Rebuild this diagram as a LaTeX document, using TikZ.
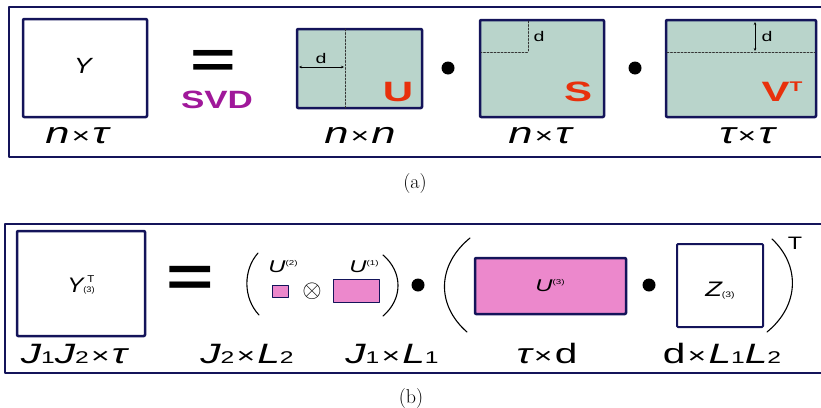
\documentclass[tikz,border=0pt]{standalone}
\usepackage{fontspec}
\newfontfamily\arial{Liberation Sans}
\usetikzlibrary{arrows.meta}
\definecolor{navy}{HTML}{14145A}
\definecolor{sage}{HTML}{B9D4CB}
\definecolor{rose}{HTML}{EC88CC}
\definecolor{svdpurple}{HTML}{A0189A}
\definecolor{redletter}{HTML}{E8300C}
\newcommand{\fs}[1]{\fontsize{#1}{#1}\selectfont}
\newcommand{\ai}[1]{{\itshape #1}}
\newcommand{\lo}[1]{{\fs{17}#1}}
\newcommand{\tm}{\hspace{1.5pt}{\fs{22}×}\hspace{1.5pt}}
\tikzset{
	frame/.style={draw=navy, line width=1.5pt},
	mat/.style={draw=navy, line width=2.5pt, rounded corners=1pt, inner sep=0pt},
	dimlabel/.style={font=\arial\fs{30}, anchor=base, xscale=1.45, inner sep=0pt},
	factor/.style={font=\arial\bfseries\fs{28}, text=redletter, xscale=1.5, inner sep=0pt},
	dl/.style={font=\arial\fs{14}, xscale=1.4, inner sep=0pt},
	cut/.style={draw=black!80, line width=0.7pt, dash pattern=on 2pt off 1.5pt},
	dimarrow/.style={line width=0.7pt, {Stealth[length=3pt,width=2.5pt]}-{Stealth[length=3pt,width=2.5pt]}},
	prod/.style={circle, fill=black, inner sep=0pt, minimum size=13pt},
	paren/.style={line width=1.1pt}
}
\begin{document}
\begin{tikzpicture}[x=1pt, y=-1pt, line join=round, line cap=round]
	\useasboundingbox (0,0) rectangle (821,407);
	% (a)
	\draw[frame] (830,7) -- (9,7) -- (9,157) -- (830,157);
	\node[mat, minimum width=124pt, minimum height=98pt] (Y) at (85,68) {};
	\node[font=\arial\itshape\fs{22}, xscale=1.2] (Ylab) at (83,66) {Y};
	\node[font=\arial\bfseries\fs{52}, xscale=1.5] (eqa) at (213,64) {=};
	\node[font=\arial\bfseries\fs{25}, text=svdpurple, xscale=1.4] (svd) at (217,100) {SVD};
	\node[mat, fill=sage, minimum width=125pt, minimum height=79pt] (U) at (359.5,68.5) {};
	\node[mat, fill=sage, minimum width=124pt, minimum height=97pt] (S) at (542,68.5) {};
	\node[mat, fill=sage, minimum width=150pt, minimum height=97pt] (V) at (741,68.5) {};
	\node[prod] (dot1) at (448,68) {};
	\node[prod] (dot2) at (635,68) {};
	% cuts at rank d
	\coordinate (Ucut) at (345,29);
	\coordinate (Ucutb) at (345,108);
	\draw[cut] (Ucut) -- (Ucutb);
	\coordinate (Ua) at (299,67);
	\coordinate (Ub) at (344,67);
	\draw[dimarrow] (Ua) -- (Ub);
	\node[dl] (dU) at (321,58) {d};
	\coordinate (Sa) at (528,21);
	\coordinate (Sb) at (528,52);
	\coordinate (Sc) at (481,52);
	\draw[cut] (Sa) -- (Sb) -- (Sc);
	\node[dl] (dS) at (539,36) {d};
	\coordinate (Va) at (667,52);
	\coordinate (Vb) at (815,52);
	\draw[cut] (Va) -- (Vb);
	\coordinate (Vt) at (755,22);
	\coordinate (Vd) at (755,51);
	\draw[dimarrow] (Vt) -- (Vd);
	\node[dl] (dV) at (767,36) {d};
	\node[factor] (Ulab) at (398,92) {U};
	\node[factor] (Slab) at (578,92) {S};
	\node[factor] (Vlab) at (782,92) {V\raisebox{10pt}{\fs{14}T}};
	\node[dimlabel] (Ydim) at (77,143) {\ai{n}\tm\ai{τ}};
	\node[dimlabel] (Udim) at (360,143) {\ai{n}\tm\ai{n}};
	\node[dimlabel] (Sdim) at (540,143) {\ai{n}\tm\ai{τ}};
	\node[dimlabel] (Vdim) at (747,143) {\ai{τ}\tm\ai{τ}};
	\node[font=\fs{20}, anchor=base] (capa) at (415,188) {(a)};
	% (b)
	\draw[frame] (830,224) -- (5,224) -- (5,373) -- (830,373);
	\node[mat, minimum width=128pt, minimum height=105pt] (Y3) at (81,283.5) {};
	\node[font=\arial\fs{21}, anchor=base, xscale=1.15] (Y3lab) at (81,292)
		{\ai{Y}{\fs{8}(3)}};
	\node[font=\arial\fs{10}, xscale=1.15] (Y3sup) at (91,279) {T};
	\node[font=\arial\bfseries\fs{58}, xscale=1.4] (eqb) at (190,281) {=};
	\coordinate (pl1) at (258,253);
	\coordinate (pl2) at (259,315);
	\draw[paren] (pl1) .. controls (243,270) and (243,298) .. (pl2);
	\node[mat, line width=0.9pt, rounded corners=0pt, fill=rose, minimum width=16pt, minimum height=12pt] (U2) at (280,291) {};
	\node[font=\arial\fs{17}, anchor=base, xscale=1.4] (U2lab) at (283,272) {\ai{U}\raisebox{7pt}{\fs{7}(2)}};
	\node[font=\fs{26}] (kron) at (312,291) {$\otimes$};
	\node[mat, line width=1pt, rounded corners=0pt, fill=rose, minimum width=46pt, minimum height=23pt] (U1) at (356,290.5) {};
	\node[font=\arial\fs{17}, anchor=base, xscale=1.4] (U1lab) at (364,272) {\ai{U}\raisebox{7pt}{\fs{7}(1)}};
	\coordinate (pr1) at (383,255);
	\coordinate (pr2) at (383,316);
	\draw[paren] (pr1) .. controls (403,272) and (403,299) .. (pr2);
	\node[prod] (dot3) at (418,285) {};
	\coordinate (Pl1) at (470,238);
	\coordinate (Pl2) at (467,332);
	\draw[paren] (Pl1) .. controls (437,265) and (436,305) .. (Pl2);
	\node[mat, fill=rose, minimum width=151pt, minimum height=56pt] (U3) at (550.5,286) {};
	\node[font=\arial\fs{17}, anchor=base, xscale=1.4] (U3lab) at (550,291) {\ai{U}\raisebox{7pt}{\fs{7}(3)}};
	\node[prod] (dot4) at (649,285) {};
	\node[mat, line width=2pt, minimum width=86pt, minimum height=83pt] (Z) at (720,285.5) {};
	\node[font=\arial\fs{21}, anchor=base, xscale=1.3] (Zlab) at (720,296) {\ai{Z}\raisebox{-1pt}{\fs{8}(3)}};
	\coordinate (Pr1) at (772,239);
	\coordinate (Pr2) at (767,332);
	\draw[paren] (Pr1) .. controls (800,265) and (800,305) .. (Pr2);
	\node[font=\arial\fs{18}, xscale=1.3] (trans) at (795,243) {T};
	\node[dimlabel, font=\arial\fs{28}] (Y3dim) at (74,363) {\ai{J}\lo{1}\ai{J}\lo{2}\tm\ai{τ}};
	\node[dimlabel, font=\arial\fs{28}] (U2dim) at (247,363) {\ai{J}\lo{2}\tm\ai{L}\lo{2}};
	\node[dimlabel, font=\arial\fs{28}] (U1dim) at (392,363) {\ai{J}\lo{1}\tm\ai{L}\lo{1}};
	\node[dimlabel, font=\arial\fs{28}] (U3dim) at (547,363) {\ai{τ}\tm d};
	\node[dimlabel, font=\arial\fs{28}] (Zdim) at (722,363) {d\tm\ai{L}\lo{1}\ai{L}\lo{2}};
	\node[font=\fs{20}, anchor=base] (capb) at (411,403) {(b)};
\end{tikzpicture}
\end{document}
